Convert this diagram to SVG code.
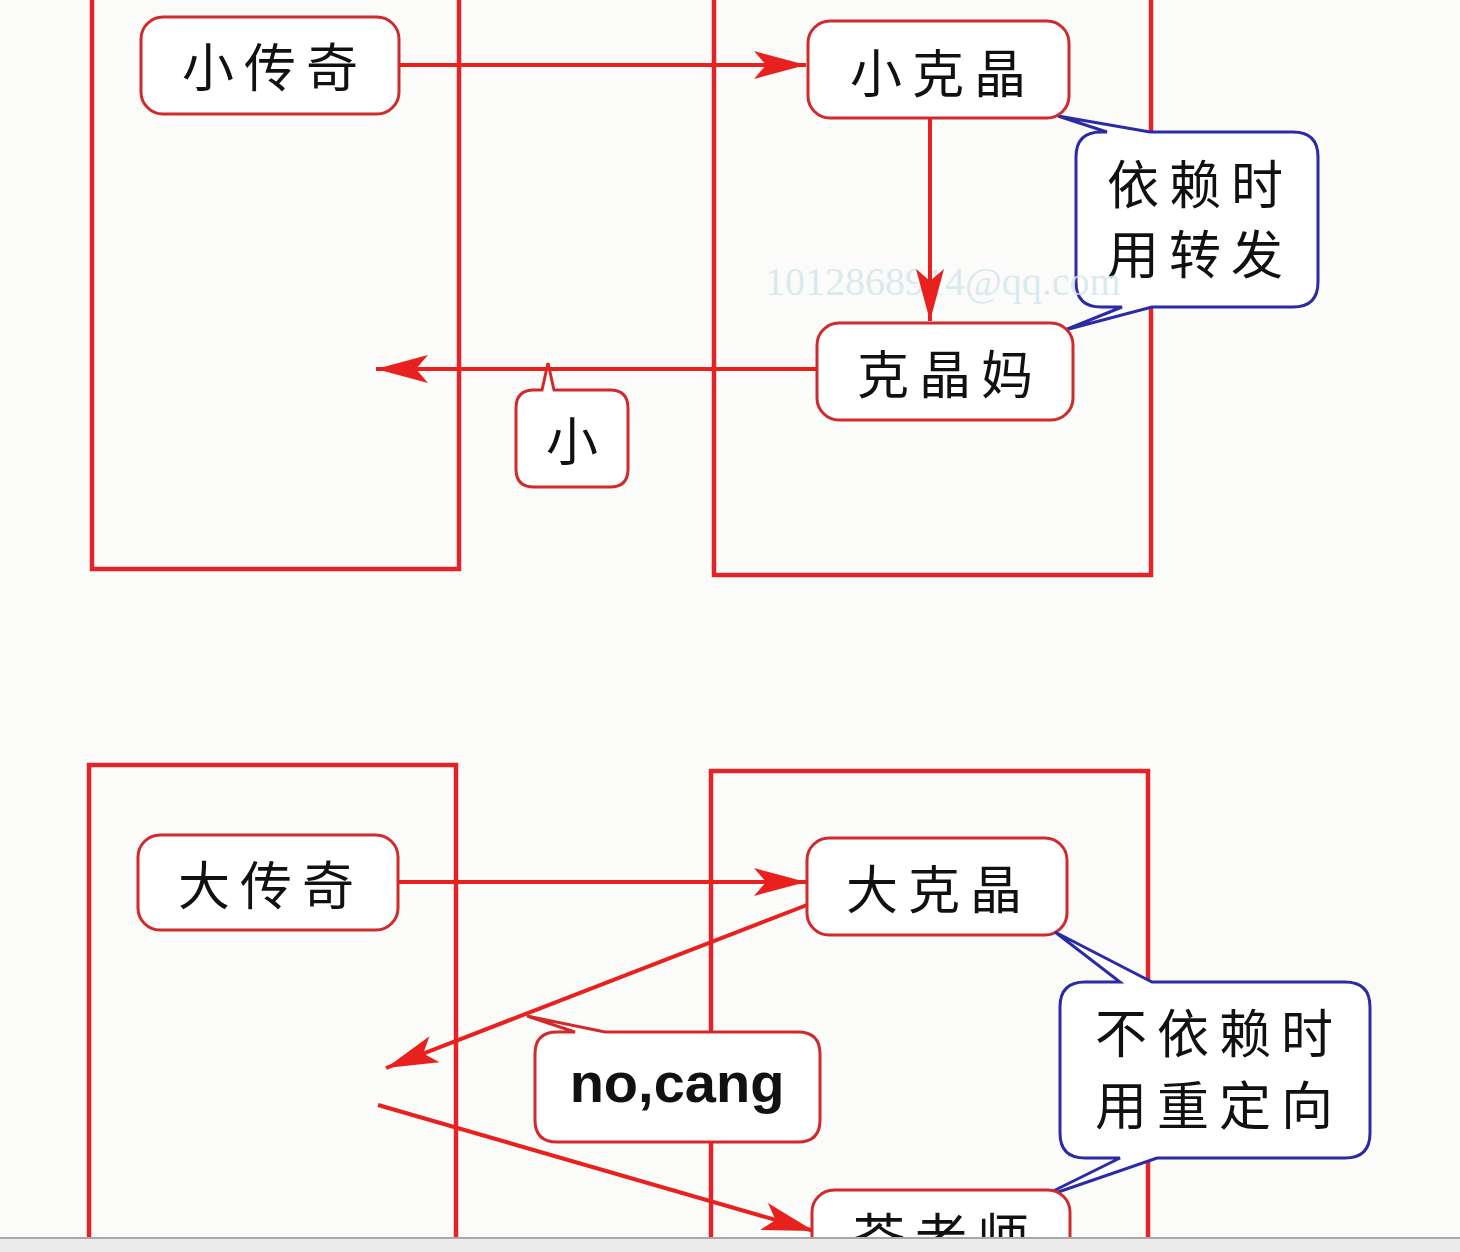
<svg xmlns="http://www.w3.org/2000/svg" width="1460" height="1252" viewBox="0 0 1460 1252">
<defs>
<marker id="ah" markerUnits="userSpaceOnUse" markerWidth="54" markerHeight="30" refX="52" refY="15" orient="auto">
<path d="M0,1 L52,15 L0,29 L12,15 Z" fill="#e8201e"/>
</marker>
<style>
.cont{fill:none;stroke:#e3232a;stroke-width:4.5}
.node{fill:#ffffff;stroke:#d02a2c;stroke-width:3}
.call{fill:#ffffff;stroke:#2b2ba6;stroke-width:3;stroke-linejoin:miter}
.callr{fill:#ffffff;stroke:#d02a2c;stroke-width:3}
.edge{fill:none;stroke:#e8201e;stroke-width:4}
.cjk{font-family:"Noto Sans CJK SC","Noto Sans",sans-serif;font-size:52px;fill:#111;text-anchor:middle;letter-spacing:10px}
.lat{font-family:"Liberation Sans",Arial,sans-serif;font-weight:bold;font-size:56px;fill:#111;text-anchor:middle}
.wm{font-family:"Liberation Serif","Times New Roman",serif;font-size:40px;fill:#d3e8ee;fill-opacity:0.85}
</style>
</defs>
<rect x="0" y="0" width="1460" height="1252" fill="#fbfbf9"/>

<g id="containers">
<rect class="cont" x="92" y="-10" width="367" height="579"/>
<rect class="cont" x="714" y="-10" width="437" height="585"/>
<rect class="cont" x="89" y="765" width="367" height="500"/>
<rect class="cont" x="711" y="771" width="437" height="500"/>
</g>

<g id="c-forward">
<path class="call" d="M1101,132 L1107,132 L1058,116 L1150,132 L1293,132 Q1318,132 1318,157 L1318,282 Q1318,307 1293,307 L1152,307 L1065,330 L1122,307 L1101,307 Q1076,307 1076,282 L1076,157 Q1076,132 1101,132 Z"/>
<text class="cjk" x="1200" y="204">依赖时</text>
<text class="cjk" x="1200" y="274">用转发</text>
</g>

<text class="wm" x="765" y="295">1012868914@qq.com</text>

<g id="connectors">
<line class="edge" x1="399" y1="65" x2="806" y2="65" marker-end="url(#ah)"/>
<line class="edge" x1="930" y1="118" x2="930" y2="321" marker-end="url(#ah)"/>
<line class="edge" x1="817" y1="369" x2="376" y2="369" marker-end="url(#ah)"/>
<line class="edge" x1="398" y1="882" x2="806" y2="882" marker-end="url(#ah)"/>
<line class="edge" x1="807" y1="905" x2="386" y2="1068" marker-end="url(#ah)"/>
<line class="edge" x1="378" y1="1105" x2="814" y2="1231" marker-end="url(#ah)"/>
</g>

<g id="n-xiaochuanqi">
<rect class="node" x="141" y="17" width="258" height="97" rx="22"/>
<text class="cjk" x="275" y="87">小传奇</text>
</g>
<g id="n-xiaokejing">
<rect class="node" x="808" y="21" width="261" height="97" rx="22"/>
<text class="cjk" x="943" y="93">小克晶</text>
</g>
<g id="n-kejingma">
<rect class="node" x="817" y="323" width="256" height="97" rx="22"/>
<text class="cjk" x="950" y="394">克晶妈</text>
</g>
<g id="c-xiao">
<path class="callr" d="M534,390 L542,390 L548,363 L554,390 L610,390 Q628,390 628,408 L628,469 Q628,487 610,487 L534,487 Q516,487 516,469 L516,408 Q516,390 534,390 Z"/>
<text class="cjk" x="572" y="461" style="letter-spacing:0">小</text>
</g>

<g id="n-dachuanqi">
<rect class="node" x="138" y="835" width="260" height="95" rx="22"/>
<text class="cjk" x="271" y="905">大传奇</text>
</g>
<g id="n-dakejing">
<rect class="node" x="807" y="838" width="260" height="97" rx="22"/>
<text class="cjk" x="939" y="909">大克晶</text>
</g>
<g id="c-nocang">
<path class="callr" d="M557,1032 L575,1032 L527,1016 L605,1032 L798,1032 Q820,1032 820,1054 L820,1120 Q820,1142 798,1142 L557,1142 Q535,1142 535,1120 L535,1054 Q535,1032 557,1032 Z"/>
<text class="lat" x="677" y="1102">no,cang</text>
</g>
<g id="c-redirect">
<path class="call" d="M1085,982 L1120,982 L1055,932 L1152,982 L1345,982 Q1370,982 1370,1007 L1370,1133 Q1370,1158 1345,1158 L1157,1158 L1035,1200 L1120,1158 L1085,1158 Q1060,1158 1060,1133 L1060,1007 Q1060,982 1085,982 Z"/>
<text class="cjk" x="1219" y="1053">不依赖时</text>
<text class="cjk" x="1219" y="1125">用重定向</text>
</g>
<g id="n-canglaoshi">
<rect class="node" x="812" y="1190" width="258" height="97" rx="22"/>
<text class="cjk" x="946" y="1257">苍老师</text>
</g>

<g id="statusbar">
<rect x="0" y="1238" width="1460" height="14" fill="#ececec"/>
<rect x="0" y="1237" width="1460" height="2" fill="#a8a8a8"/>
</g>
</svg>
